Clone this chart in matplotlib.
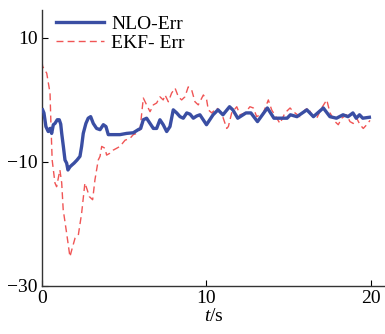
import matplotlib
matplotlib.use("Agg")
import matplotlib.pyplot as plt

plt.rcParams['font.family'] = ['Liberation Serif', 'DejaVu Serif']
plt.rcParams['mathtext.fontset'] = 'custom'
plt.rcParams['mathtext.it'] = 'Liberation Serif:italic'
plt.rcParams['mathtext.rm'] = 'Liberation Serif'

# NLO error
t_nlo = [0.04, 0.12, 0.24, 0.38, 0.49, 0.59, 0.69, 0.79, 0.93, 1.05, 1.14, 1.20, 1.30,
         1.40, 1.50, 1.58, 1.70, 1.82, 1.95, 2.13, 2.31, 2.41, 2.51, 2.67, 2.81, 2.96,
         3.12, 3.32, 3.53, 3.73, 3.89, 4.03, 4.33, 4.74, 5.15, 5.55, 5.85, 6.0, 6.16,
         6.36, 6.57, 6.77, 6.97, 7.17, 7.37, 7.58, 7.78, 7.98, 8.19, 8.39, 8.59, 8.80,
         9.0, 9.2, 9.4, 9.6, 9.8, 10.0, 10.4, 10.7, 11.0, 11.4, 11.6, 11.9, 12.4, 12.7,
         13.1, 13.7, 14.1, 14.4, 14.9, 15.1, 15.5, 16.1, 16.5, 17.1, 17.5, 17.9, 18.3,
         18.6, 18.9, 19.1, 19.3, 19.5, 19.9]
nlo_err = [-1.6, -2.1, -4.3, -5.1, -4.6, -5.4, -4.0, -3.8, -3.2, -3.2, -3.9, -5.4, -7.5,
           -9.7, -10.2, -11.3, -10.8, -10.5, -10.2, -9.7, -9.1, -7.5, -5.4, -3.8, -2.95, -2.7,
           -3.8, -4.6, -4.8, -4.0, -4.3, -5.6, -5.6, -5.6, -5.4, -5.3, -4.8, -4.6, -3.2,
           -2.95, -3.8, -4.6, -4.6, -3.2, -4.0, -5.1, -4.3, -1.6, -2.1, -2.7, -2.95, -2.1,
           -2.3, -2.95, -2.6, -2.4, -3.2, -4.0, -2.4, -1.6, -2.4, -1.1, -1.6, -2.95, -2.1, -2.1,
           -3.5, -1.3, -2.95, -2.95, -2.95, -2.4, -2.7, -1.6, -2.7, -1.3, -2.7, -2.95, -2.4,
           -2.7, -2.1, -2.95, -2.4, -2.95, -2.8]

# EKF error
t_ekf = [0.0, 0.04, 0.29, 0.49, 0.55, 0.62, 0.79, 0.89, 1.09, 1.20, 1.29, 1.50, 1.70, 1.81,
         2.01, 2.21, 2.41, 2.61, 2.75, 2.88, 3.08, 3.22, 3.42, 3.53, 3.63, 3.83, 3.93,
         4.13, 4.33, 4.54, 4.74, 5.05, 5.35, 5.55, 5.76, 5.96, 6.16, 6.36, 6.57, 6.77,
         6.97, 7.17, 7.37, 7.48, 7.68, 7.88, 8.09, 8.29, 8.49, 8.69, 8.89, 9.10, 9.30,
         9.50, 9.81, 10.01, 10.11, 10.32, 10.62, 10.92, 11.02, 11.23, 11.33, 11.53, 11.84,
         12.04, 12.34, 12.64, 12.85, 13.05, 13.45, 13.76, 13.96, 14.27, 14.47, 14.77,
         15.08, 15.28, 15.68, 15.99, 16.19, 16.40, 16.70, 17.00, 17.31, 17.51, 17.81,
         18.01, 18.22, 18.52, 18.72, 18.92, 19.13, 19.33, 19.53, 19.74, 19.94]
ekf_err = [6.2, 5.4, 4.3, 1.1, -4.3, -9.7, -13.4, -14.0, -11.3, -13.4, -17.7, -21.5, -25.3,
           -24.2, -22.3, -21.8, -18.3, -13.4, -14.5, -15.6, -16.1, -12.9, -9.7, -9.1, -7.5,
           -7.8, -8.9, -8.6, -8.1, -7.8, -7.5, -6.5, -6.2, -5.6, -5.4, -4.8, 0.3, -0.8, -1.9,
           -0.8, -0.5, 0.5, 0.0, 0.8, -0.3, 1.1, 1.9, 0.5, 0.0, 0.5, 2.1, 1.6, -0.3, -0.8,
           0.8, 0.0, -1.6, -2.1, -1.3, -2.1, -2.95, -4.6, -4.3, -2.1, -1.1, -2.4, -2.1, -1.1,
           -1.3, -2.7, -2.1, 0.0, -1.6, -2.95, -3.8, -2.1, -1.3, -1.9, -2.7, -1.6, -1.3, -2.4,
           -2.95, -1.3, 0.0, -2.1, -3.5, -4.0, -2.95, -2.4, -3.5, -3.8, -2.95, -4.0, -4.6,
           -4.0, -3.3]

fig = plt.figure(figsize=(3.85, 3.34), dpi=100)
ax = fig.add_axes([0.109, 0.144, 0.891, 0.826])

ax.plot(t_nlo, nlo_err, color='#3a4ea3', lw=2.4, label='NLO-Err', zorder=3)
ax.plot(t_ekf, ekf_err, color='#f05555', lw=1.0, ls=(0, (5, 3)), label='EKF- Err', zorder=2)

ax.set_xlim(0, 20.85)
ax.set_ylim(-30, 14.5)
ax.set_xticks([0, 10, 20])
ax.set_yticks([10, -10, -30])
ax.spines['top'].set_visible(False)
ax.spines['right'].set_visible(False)
for s in ['left', 'bottom']:
    ax.spines[s].set_color('#333333')
    ax.spines[s].set_linewidth(1.0)
ax.tick_params(direction='in', length=4, labelsize=14, pad=3)
ax.set_xlabel('$t$/s', fontsize=14, labelpad=1)

ax.legend(loc='upper left', bbox_to_anchor=(0.0, 1.03), frameon=False, fontsize=14,
          handlelength=2.5, handletextpad=0.35, labelspacing=0.05, borderaxespad=0.3)

fig.savefig('out.png', dpi=100)
